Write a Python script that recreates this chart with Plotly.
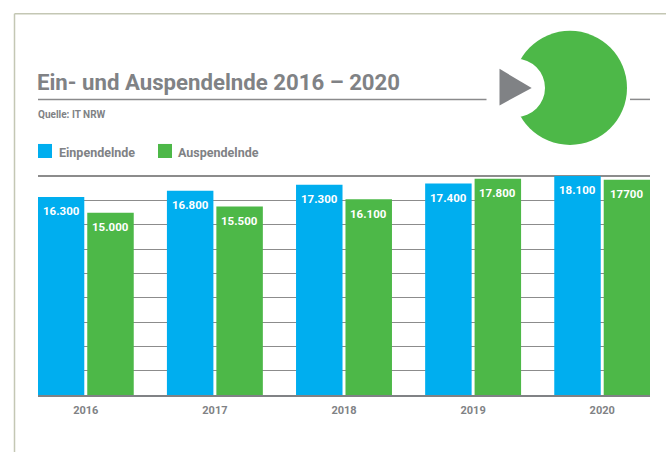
import plotly.graph_objects as go

years = ["2016", "2017", "2018", "2019", "2020"]
einpendelnde = [16300, 16800, 17300, 17400, 18100]
auspendelnde = [15000, 15500, 16100, 17800, 17700]
ein_labels = ["16.300", "16.800", "17.300", "17.400", "18.100"]
aus_labels = ["15.000", "15.500", "16.100", "17.800", "17700"]
title = "Ein- und Auspendelnde 2016 – 2020"
source = "Quelle: IT NRW"

BLUE = "#00aeef"
GREEN = "#4db848"
GREY = "#808285"
FONT = "Roboto"

L, R, T, B = 38, 650, 175, 394.7
W, H = 666, 452
def px(x): return (x - L) / (R - L)
def py(y): return (B - y) / (B - T)

fig = go.Figure()
for name, vals, labs, col in [("Einpendelnde", einpendelnde, ein_labels, BLUE),
                              ("Auspendelnde", auspendelnde, aus_labels, GREEN)]:
    fig.add_bar(x=years, y=vals, name=name, marker=dict(color=col, line_width=0),
                text=labs, textposition="none", showlegend=False, cliponaxis=False)

annotations = []
for i, y_ in enumerate(years):
    for vals, labs, off in [(einpendelnde, ein_labels, -24.6), (auspendelnde, aus_labels, 24.6)]:
        annotations.append(dict(x=i, y=vals[i], xref="x", yref="y", text=f"<b>{labs[i]}</b>",
                                showarrow=False, xshift=off, yshift=-14.5, yanchor="middle",
                                font=dict(family=FONT, size=11.5, color="white")))

def label(x, y, text, size, color=GREY, anchor="left"):
    annotations.append(dict(x=px(x), y=py(y), xref="paper", yref="paper", text=f"<b>{text}</b>",
                            showarrow=False, xanchor=anchor, yanchor="middle",
                            font=dict(family=FONT, size=size, color=color),
                            borderpad=0, borderwidth=0))

label(37, 82, title, 22.2)
label(37.5, 114.5, source, 10)
label(59, 153, "Einpendelnde", 12.5)
label(178, 153, "Auspendelnde", 12.5)

shapes = []
def rect(x0, y0, x1, y1, col):
    shapes.append(dict(type="rect", xref="paper", yref="paper", x0=px(x0), x1=px(x1), y0=py(y0), y1=py(y1),
                       fillcolor=col, line_width=0, layer="above"))
def circle(cx, cy, r, col):
    shapes.append(dict(type="circle", xref="paper", yref="paper", x0=px(cx - r), x1=px(cx + r),
                       y0=py(cy - r), y1=py(cy + r), fillcolor=col, line_width=0, layer="above"))
def line(x0, y0, x1, y1, col, w):
    shapes.append(dict(type="line", xref="paper", yref="paper", x0=px(x0), x1=px(x1), y0=py(y0), y1=py(y1),
                       line=dict(color=col, width=w), layer="above"))

line(14.5, 14, 666, 14, "#c4c7b4", 1.5)
line(14.5, 14, 14.5, 452, "#c4c7b4", 1.5)
line(38, 99.5, 486.5, 99.5, "#8a8a8c", 1.5)
line(630, 99.5, 650, 99.5, "#8a8a8c", 1.5)
line(38, 175.5, 650, 175.5, "#8c8c8c", 1)
circle(570, 88, 57, GREEN)
circle(516, 88, 29, "white")
shapes.append(dict(type="path", xref="paper", yref="paper", layer="above", fillcolor=GREY, line_width=0,
                   path=f"M{px(499.5)},{py(69)} L{px(531.7)},{py(88)} L{px(499.5)},{py(105.5)} Z"))
rect(38, 144, 52, 158, BLUE)
rect(158, 144, 172, 158, GREEN)

fig.update_layout(
    width=W, height=H, autosize=False,
    margin=dict(l=L, r=W - R, t=T, b=H - B),
    paper_bgcolor="white", plot_bgcolor="white",
    barmode="group", bargap=0.234, bargroupgap=0.06,
    showlegend=False,
    annotations=annotations, shapes=shapes,
    xaxis=dict(type="category", range=[-0.37, 4.37], showgrid=False, ticks="",
               showline=True, linecolor="#808285", linewidth=1.5,
               tickfont=dict(family=FONT, size=11, color=GREY), ticklabelstandoff=4,
               ticktext=[f"<b>{y}</b>" for y in years], tickvals=years),
    yaxis=dict(range=[0, 18100], dtick=2000, showticklabels=False, showline=False, zeroline=False,
               showgrid=True, gridcolor="#8c8c8c", gridwidth=1),
)
fig.write_html("out.html", config=dict(displayModeBar=False),
               post_script="document.body.style.margin='0';")
